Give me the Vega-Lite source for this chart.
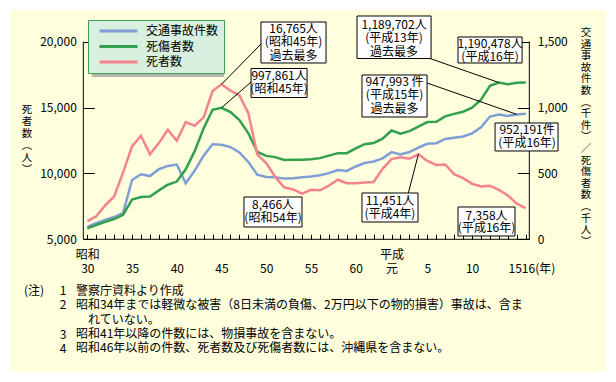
{
"$schema": "https://vega.github.io/schema/vega-lite/v6.json",
"width": 596, "height": 362,
"autosize": {"type": "none"},
"padding": {"left": 10, "top": 10, "right": 10, "bottom": 10},
"background": "#ffffff",
"config": {
  "view": {"fill": "#ffffdd", "stroke": null},
  "font": "Noto Sans CJK JP",
  "axis": {"labelFont": "Noto Sans CJK JP", "labelFontSize": 12, "labelColor": "#000000", "tickColor": "#000000", "tickWidth": 1, "grid": false, "domain": false, "title": null, "labelOverlap": false, "labelBound": false, "labelFlush": false},
  "text": {"font": "Noto Sans CJK JP", "fontSize": 12, "color": "#000000"}
},
"data": {"values": [
{"年":1955,"交通事故件数":94.0,"死傷者数":82.9,"死者数":6379},
{"年":1956,"交通事故件数":122.7,"死傷者数":108.8,"死者数":6751},
{"年":1957,"交通事故件数":146.8,"死傷者数":132.1,"死者数":7575},
{"年":1958,"交通事故件数":168.8,"死傷者数":153.7,"死者数":8248},
{"年":1959,"交通事故件数":201.3,"死傷者数":186.0,"死者数":10079},
{"年":1960,"交通事故件数":449.9,"死傷者数":301.2,"死者数":12055},
{"年":1961,"交通事故件数":493.7,"死傷者数":321.6,"死者数":12865},
{"年":1962,"交通事故件数":479.8,"死傷者数":325.3,"死者数":11445},
{"年":1963,"交通事故件数":532.0,"死傷者数":371.4,"死者数":12301},
{"年":1964,"交通事故件数":557.2,"死傷者数":414.4,"死者数":13318},
{"年":1965,"交通事故件数":567.3,"死傷者数":438.2,"死者数":12484},
{"年":1966,"交通事故件数":425.9,"死傷者数":531.7,"死者数":13904},
{"年":1967,"交通事故件数":521.5,"死傷者数":669.0,"死者数":13618},
{"年":1968,"交通事故件数":635.1,"死傷者数":842.3,"死者数":14256},
{"年":1969,"交通事故件数":720.9,"死傷者数":983.3,"死者数":16257},
{"年":1970,"交通事故件数":718.1,"死傷者数":997.9,"死者数":16765},
{"年":1971,"交通事故件数":700.3,"死傷者数":966.0,"死者数":16278},
{"年":1972,"交通事故件数":659.3,"死傷者数":905.1,"死者数":15918},
{"年":1973,"交通事故件数":586.7,"死傷者数":804.5,"死者数":14574},
{"年":1974,"交通事故件数":490.5,"死傷者数":662.9,"死者数":11432},
{"年":1975,"交通事故件数":472.9,"死傷者数":633.3,"死者数":10792},
{"年":1976,"交通事故件数":471.0,"死傷者数":623.7,"死者数":9734},
{"年":1977,"交通事故件数":460.6,"死傷者数":602.2,"死者数":8945},
{"年":1978,"交通事故件数":464.0,"死傷者数":602.9,"死者数":8783},
{"年":1979,"交通事故件数":471.6,"死傷者数":604.7,"死者数":8466},
{"年":1980,"交通事故件数":476.7,"死傷者数":607.5,"死者数":8760},
{"年":1981,"交通事故件数":485.6,"死傷者数":616.1,"死者数":8719},
{"年":1982,"交通事故件数":502.3,"死傷者数":635.3,"死者数":9073},
{"年":1983,"交通事故件数":526.4,"死傷者数":653.8,"死者数":9520},
{"年":1984,"交通事故件数":518.6,"死傷者数":654.0,"死者数":9262},
{"年":1985,"交通事故件数":552.8,"死傷者数":690.6,"死者数":9261},
{"年":1986,"交通事故件数":579.2,"死傷者数":721.6,"死者数":9317},
{"年":1987,"交通事故件数":590.7,"死傷者数":731.5,"死者数":9347},
{"年":1988,"交通事故件数":614.5,"死傷者数":763.2,"死者数":10344},
{"年":1989,"交通事故件数":661.4,"死傷者数":825.9,"死者数":11086},
{"年":1990,"交通事故件数":643.1,"死傷者数":801.5,"死者数":11227},
{"年":1991,"交通事故件数":662.4,"死傷者数":821.4,"死者数":11109},
{"年":1992,"交通事故件数":695.3,"死傷者数":855.5,"死者数":11451},
{"年":1993,"交通事故件数":724.7,"死傷者数":889.6,"死者数":10942},
{"年":1994,"交通事故件数":729.5,"死傷者数":892.4,"死者数":10649},
{"年":1995,"交通事故件数":761.8,"死傷者数":933.4,"死者数":10679},
{"年":1996,"交通事故件数":771.1,"死傷者数":952.1,"死者数":9942},
{"年":1997,"交通事故件数":780.4,"死傷者数":968.6,"死者数":9640},
{"年":1998,"交通事故件数":803.9,"死傷者数":999.9,"死者数":9211},
{"年":1999,"交通事故件数":850.4,"死傷者数":1059.4,"死者数":9006},
{"年":2000,"交通事故件数":931.9,"死傷者数":1164.8,"死者数":9066},
{"年":2001,"交通事故件数":947.2,"死傷者数":1189.7,"死者数":8747},
{"年":2002,"交通事故件数":936.7,"死傷者数":1176.2,"死者数":8326},
{"年":2003,"交通事故件数":948.0,"死傷者数":1189.1,"死者数":7702},
{"年":2004,"交通事故件数":952.2,"死傷者数":1190.5,"死者数":7358}
]},
"resolve": {"scale": {"x": "independent", "y": "independent"}},
"layer": [
{
  "transform": [{"fold": ["交通事故件数", "死傷者数"], "as": ["系列", "値"]}],
  "mark": {"type": "line", "strokeWidth": 2.5},
  "encoding": {
    "x": {"field": "年", "type": "quantitative", "scale": {"domain": [1946.36, 2012.97], "nice": false, "zero": false},
          "axis": {"orient": "bottom", "values": [1955,1956,1957,1958,1959,1960,1961,1962,1963,1964,1965,1966,1967,1968,1969,1970,1971,1972,1973,1974,1975,1976,1977,1978,1979,1980,1981,1982,1983,1984,1985,1986,1987,1988,1989,1990,1991,1992,1993,1994,1995,1996,1997,1998,1999,2000,2001,2002,2003,2004],
                   "offset": -132.7, "tickSize": -5, "title": null, "labels": false}},
    "y": {"field": "値", "type": "quantitative", "scale": {"domain": [-1007.4, 1740.6], "nice": false, "zero": false},
          "axis": {"orient": "right", "values": [0, 500, 1000, 1500], "labelExpr": "format(datum.value, ',')", "title": null, "offset": -76.7, "tickSize": -12, "labelPadding": 20}},
    "color": {"field": "系列", "type": "nominal",
      "scale": {"domain": ["交通事故件数", "死傷者数", "死者数"], "range": ["#7f9fd4", "#32a04c", "#f4838f"]},
      "legend": {"title": null, "orient": "none", "legendX": 78, "legendY": 10, "symbolType": "stroke", "symbolSize": 1444, "symbolStrokeWidth": 3, "clipHeight": 12, "labelFontSize": 12, "labelFont": "Noto Sans CJK JP", "labelColor": "#000000", "fillColor": "#d9efdf", "strokeColor": "#3aa04a", "padding": 5, "rowPadding": 3.5, "labelOffset": 7, "symbolOffset": 5, "zindex": 1}}
  }
},
{
  "layer": [
    {"data": {"values": [{}]}, "mark": {"type": "rect", "fill": "#b4b4b4"},
     "encoding": {"x": {"datum": 1955.53, "type": "quantitative"}, "x2": {"datum": 1970.28}, "y": {"datum": 17320, "type": "quantitative"}, "y2": {"datum": 21344}}},
    {"data": {"values": [{}]}, "mark": {"type": "rule", "color": "#000000", "strokeWidth": 1},
     "encoding": {"x": {"datum": 1954.553, "type": "quantitative"}, "y": {"datum": 5000, "type": "quantitative"}, "y2": {"datum": 20000}}},
    {"data": {"values": [{}]}, "mark": {"type": "rule", "color": "#000000", "strokeWidth": 1},
     "encoding": {"x": {"datum": 2004.40, "type": "quantitative"}, "y": {"datum": 5000, "type": "quantitative"}, "y2": {"datum": 20000}}},
    {"data": {"values": [{}]}, "mark": {"type": "rule", "color": "#000000", "strokeWidth": 1},
     "encoding": {"x": {"datum": 1954.553, "type": "quantitative"}, "x2": {"datum": 2004.40}, "y": {"datum": 5000, "type": "quantitative"}}},
    {
      "transform": [{"fold": ["死者数"], "as": ["系列", "値"]}],
      "mark": {"type": "line", "strokeWidth": 2.5},
      "encoding": {
        "x": {"field": "年", "type": "quantitative", "scale": {"domain": [1946.36, 2012.97], "nice": false, "zero": false},
              "axis": {"orient": "bottom", "values": [1955, 1960, 1965, 1970, 1975, 1980, 1985, 1989, 1993, 1998, 2004],
                       "offset": -132.7, "ticks": false, "title": null,
                       "labelExpr": "datum.value == 1955 ? ['昭和', '30'] : datum.value < 1989 ? ['', '' + (datum.value - 1925)] : datum.value == 1989 ? ['平成', '元'] : datum.value == 2004 ? ['', '1516(年)'] : ['', '' + (datum.value - 1988)]",
                       "labelBaseline": "top", "labelLineHeight": 14, "labelPadding": 10, "labelOverlap": false, "labelBound": false, "labelFlush": false,
                       "labelAlign": {"condition": {"test": "datum.value == 2004", "value": "left"}, "value": "center"},
                       "labelOffset": {"condition": {"test": "datum.value == 2004", "value": -17.7}, "value": 0}}},
        "y": {"field": "値", "type": "quantitative", "scale": {"domain": [-5074, 22406], "nice": false, "zero": false},
              "axis": {"orient": "left", "values": [5000, 10000, 15000, 20000], "labelExpr": "format(datum.value, ',')", "title": null, "offset": -73.3, "tickSize": -11, "labelPadding": 18}},
        "color": {"field": "系列", "type": "nominal", "scale": {"domain": ["交通事故件数", "死傷者数", "死者数"], "range": ["#7f9fd4", "#32a04c", "#f4838f"]}}
      }
    },
    {"data": {"values": [{}]}, "mark": {"type": "rule", "color": "#000000", "strokeWidth": 1},
     "encoding": {"x": {"datum": 1970, "type": "quantitative"}, "y": {"datum": 16765, "type": "quantitative"}, "x2": {"datum": 1974.41}, "y2": {"datum": 19825}}},
    {"data": {"values": [{}]}, "mark": {"type": "rule", "color": "#000000", "strokeWidth": 1},
     "encoding": {"x": {"datum": 1970, "type": "quantitative"}, "y": {"datum": 14979, "type": "quantitative"}, "x2": {"datum": 1973.30}, "y2": {"datum": 16941}}},
    {"data": {"values": [{}]}, "mark": {"type": "rule", "color": "#000000", "strokeWidth": 1},
     "encoding": {"x": {"datum": 1993.30, "type": "quantitative"}, "y": {"datum": 18725, "type": "quantitative"}, "x2": {"datum": 2001}, "y2": {"datum": 16897}}},
    {"data": {"values": [{}]}, "mark": {"type": "rule", "color": "#000000", "strokeWidth": 1},
     "encoding": {"x": {"datum": 1992.97, "type": "quantitative"}, "y": {"datum": 16865, "type": "quantitative"}, "x2": {"datum": 2003}, "y2": {"datum": 14480}}},
    {"data": {"values": [{}]}, "mark": {"type": "rule", "color": "#000000", "strokeWidth": 1},
     "encoding": {"x": {"datum": 1990.88, "type": "quantitative"}, "y": {"datum": 8515, "type": "quantitative"}, "x2": {"datum": 1992}, "y2": {"datum": 11451}}},

    {"data": {"values": [{}]}, "mark": {"type": "rect", "fill": "#ffffff", "stroke": "#000000", "strokeWidth": 1},
     "encoding": {"x": {"datum": 1974.41, "type": "quantitative"}, "x2": {"datum": 1981.68}, "y": {"datum": 18383, "type": "quantitative"}, "y2": {"datum": 21495}}},
    {"data": {"values": [{}]}, "mark": {"type": "rect", "fill": "#ffffff", "stroke": "#000000", "strokeWidth": 1},
     "encoding": {"x": {"datum": 1973.30, "type": "quantitative"}, "x2": {"datum": 1979.56}, "y": {"datum": 15764, "type": "quantitative"}, "y2": {"datum": 17966}}},
    {"data": {"values": [{}]}, "mark": {"type": "rect", "fill": "#ffffff", "stroke": "#000000", "strokeWidth": 1},
     "encoding": {"x": {"datum": 1972.51, "type": "quantitative"}, "x2": {"datum": 1978.99}, "y": {"datum": 5934, "type": "quantitative"}, "y2": {"datum": 8211}}},
    {"data": {"values": [{}]}, "mark": {"type": "rect", "fill": "#ffffff", "stroke": "#000000", "strokeWidth": 1},
     "encoding": {"x": {"datum": 1985.14, "type": "quantitative"}, "x2": {"datum": 1993.42}, "y": {"datum": 18725, "type": "quantitative"}, "y2": {"datum": 21951}}},
    {"data": {"values": [{}]}, "mark": {"type": "rect", "fill": "#ffffff", "stroke": "#000000", "strokeWidth": 1},
     "encoding": {"x": {"datum": 1996.43, "type": "quantitative"}, "x2": {"datum": 2003.59}, "y": {"datum": 18383, "type": "quantitative"}, "y2": {"datum": 20357}}},
    {"data": {"values": [{}]}, "mark": {"type": "rect", "fill": "#ffffff", "stroke": "#000000", "strokeWidth": 1},
     "encoding": {"x": {"datum": 1985.70, "type": "quantitative"}, "x2": {"datum": 1992.97}, "y": {"datum": 14284, "type": "quantitative"}, "y2": {"datum": 17472}}},
    {"data": {"values": [{}]}, "mark": {"type": "rect", "fill": "#ffffff", "stroke": "#000000", "strokeWidth": 1},
     "encoding": {"x": {"datum": 2000.57, "type": "quantitative"}, "x2": {"datum": 2007.61}, "y": {"datum": 11703, "type": "quantitative"}, "y2": {"datum": 13829}}},
    {"data": {"values": [{}]}, "mark": {"type": "rect", "fill": "#ffffff", "stroke": "#000000", "strokeWidth": 1},
     "encoding": {"x": {"datum": 1985.70, "type": "quantitative"}, "x2": {"datum": 1991.96}, "y": {"datum": 6313, "type": "quantitative"}, "y2": {"datum": 8515}}},
    {"data": {"values": [{}]}, "mark": {"type": "rect", "fill": "#ffffff", "stroke": "#000000", "strokeWidth": 1},
     "encoding": {"x": {"datum": 1996.43, "type": "quantitative"}, "x2": {"datum": 2002.80}, "y": {"datum": 5251, "type": "quantitative"}, "y2": {"datum": 7452}}},

    {"data": {"values": [{}]}, "mark": {"type": "text", "text": ["16,765人", "(昭和45年)", "過去最多"], "lineHeight": 13.5, "align": "center", "baseline": "middle", "fontSize": 12},
     "encoding": {"x": {"datum": 1978.05, "type": "quantitative"}, "y": {"datum": 20964, "type": "quantitative"}}},
    {"data": {"values": [{}]}, "mark": {"type": "text", "text": ["997,861人", "(昭和45年)"], "lineHeight": 13.5, "align": "center", "baseline": "middle", "fontSize": 12},
     "encoding": {"x": {"datum": 1976.43, "type": "quantitative"}, "y": {"datum": 17396, "type": "quantitative"}}},
    {"data": {"values": [{}]}, "mark": {"type": "text", "text": ["8,466人", "(昭和54年)"], "lineHeight": 13.5, "align": "center", "baseline": "middle", "fontSize": 12},
     "encoding": {"x": {"datum": 1975.76, "type": "quantitative"}, "y": {"datum": 7604, "type": "quantitative"}}},
    {"data": {"values": [{}]}, "mark": {"type": "text", "text": ["1,189,702人", "(平成13年)", "過去最多"], "lineHeight": 13.5, "align": "center", "baseline": "middle", "fontSize": 12},
     "encoding": {"x": {"datum": 1989.28, "type": "quantitative"}, "y": {"datum": 21290, "type": "quantitative"}}},
    {"data": {"values": [{}]}, "mark": {"type": "text", "text": ["1,190,478人", "(平成16年)"], "lineHeight": 12.5, "align": "center", "baseline": "middle", "fontSize": 12},
     "encoding": {"x": {"datum": 2000.01, "type": "quantitative"}, "y": {"datum": 19825, "type": "quantitative"}}},
    {"data": {"values": [{}]}, "mark": {"type": "text", "text": ["947,993 件", "(平成15年)", "過去最多"], "lineHeight": 13.5, "align": "center", "baseline": "middle", "fontSize": 12},
     "encoding": {"x": {"datum": 1989.34, "type": "quantitative"}, "y": {"datum": 16941, "type": "quantitative"}}},
    {"data": {"values": [{}]}, "mark": {"type": "text", "text": ["952,191件", "(平成16年)"], "lineHeight": 13, "align": "center", "baseline": "middle", "fontSize": 12},
     "encoding": {"x": {"datum": 2004.15, "type": "quantitative"}, "y": {"datum": 13259, "type": "quantitative"}}},
    {"data": {"values": [{}]}, "mark": {"type": "text", "text": ["11,451人", "(平成4年)"], "lineHeight": 13, "align": "center", "baseline": "middle", "fontSize": 12},
     "encoding": {"x": {"datum": 1988.83, "type": "quantitative"}, "y": {"datum": 7930, "type": "quantitative"}}},
    {"data": {"values": [{}]}, "mark": {"type": "text", "text": ["7,358人", "(平成16年)"], "lineHeight": 12.5, "align": "center", "baseline": "middle", "fontSize": 12},
     "encoding": {"x": {"datum": 1999.62, "type": "quantitative"}, "y": {"datum": 6769, "type": "quantitative"}}},

    {"data": {"values": [{}]}, "mark": {"type": "text", "text": ["死", "者", "数", "︵", "人", "︶"], "lineHeight": 12, "align": "center", "baseline": "middle", "fontSize": 10.5},
     "encoding": {"x": {"datum": 1948.26, "type": "quantitative"}, "y": {"datum": 14815, "type": "quantitative"}}},
    {"data": {"values": [{}]}, "mark": {"type": "text", "text": ["交", "通", "事", "故", "件", "数", "︵", "千", "件", "︶", "／", "死", "傷", "者", "数", "︵", "千", "人", "︶"], "lineHeight": 11.6, "align": "center", "baseline": "middle", "fontSize": 10.5},
     "encoding": {"x": {"datum": 2010.74, "type": "quantitative"}, "y": {"datum": 20660, "type": "quantitative"}}},

    {"data": {"values": [{}]}, "mark": {"type": "text", "text": "(注)", "align": "left", "baseline": "middle", "fontSize": 12},
     "encoding": {"x": {"datum": 1947.93, "type": "quantitative"}, "y": {"datum": 1076, "type": "quantitative"}}},
    {"data": {"values": [{}]}, "mark": {"type": "text", "text": ["1", "2"], "lineHeight": 14.3, "align": "center", "baseline": "middle", "fontSize": 12},
     "encoding": {"x": {"datum": 1952.28, "type": "quantitative"}, "y": {"datum": 1076, "type": "quantitative"}}},
    {"data": {"values": [{}]}, "mark": {"type": "text", "text": ["3", "4"], "lineHeight": 14.3, "align": "center", "baseline": "middle", "fontSize": 12},
     "encoding": {"x": {"datum": 1952.28, "type": "quantitative"}, "y": {"datum": -2266, "type": "quantitative"}}},
    {"data": {"values": [{}]}, "mark": {"type": "text", "text": ["警察庁資料より作成", "昭和34年までは軽微な被害（8日未満の負傷、2万円以下の物的損害）事故は、含ま", "\u200b\u3000れていない。", "昭和41年以降の件数には、物損事故を含まない。", "昭和46年以前の件数、死者数及び死傷者数には、沖縄県を含まない。"], "lineHeight": 14.3, "align": "left", "baseline": "middle", "fontSize": 12},
     "encoding": {"x": {"datum": 1953.74, "type": "quantitative"}, "y": {"datum": 1076, "type": "quantitative"}}}
  ]
}
]
}
